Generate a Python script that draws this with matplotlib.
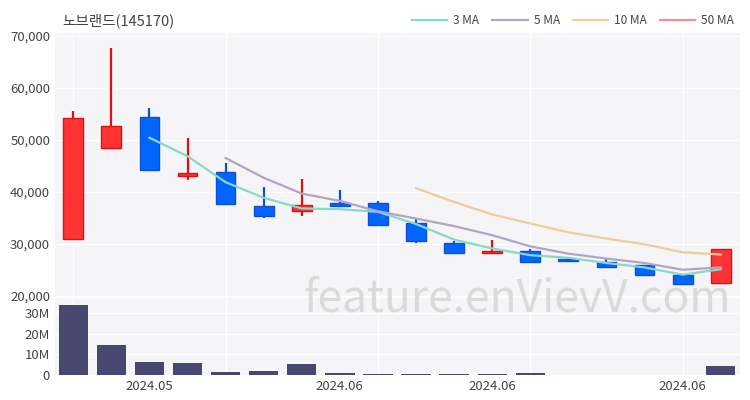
import numpy as np
import matplotlib
matplotlib.use("Agg")
import matplotlib.pyplot as plt
from matplotlib.ticker import FuncFormatter

plt.rcParams['font.family'] = ['Noto Sans CJK KR', 'DejaVu Sans']

title = "노브랜드(145170)"

# 일봉 데이터
opens = [31000, 48500, 54400, 43100, 43800, 37300, 36300, 37900, 37900,
         33950, 30250, 28350, 28700, 27200, 26550, 25900, 24000, 22500]
closes = [54300, 52800, 44250, 43700, 37700, 35300, 37550, 37300, 33700,
          30550, 28250, 28700, 26550, 26800, 25650, 24050, 22250, 29000]
highs = [55500, 67800, 56250, 50450, 45600, 41050, 42500, 40450, 38350,
         35000, 30500, 30750, 29050, 27400, 27300, 25950, 24050, 29000]
lows = [31000, 48200, 44250, 42350, 37550, 35100, 35300, 37050, 33700,
        30150, 28050, 28250, 26450, 26550, 25450, 24050, 22200, 22300]
volumes = [34.3, 14.4, 6.3, 6.0, 1.5, 2.1, 5.4, 1.1, 0.5,
           0.5, 0.3, 0.5, 0.8, 0.15, 0.15, 0.2, 0.2, 4.4]  # 백만 주

nan = np.nan
ma3 = [nan, nan, 50450, 46900, 41900, 38900, 36850, 36700, 36200,
       33850, 30850, 29150, 27850, 27350, 26350, 25500, 24100, 25150]
ma5 = [nan, nan, nan, nan, 46550, 42750, 39700, 38300, 36300,
       34900, 33450, 31700, 29550, 28150, 27200, 26350, 25050, 25500]
ma10 = [nan] * 9 + [40750, 38100, 35700, 33950, 32250, 31050, 29950, 28400, 28000]
ma50 = [nan] * 18

tick_pos = [2, 7, 11, 16]
tick_labels = ["2024.05", "2024.06", "2024.06", "2024.06"]
grid_pos = [0, 4, 8, 12, 16]

bg = "#f5f5f7"
txt = "#444444"
up_c, up_e = "#ff3333", "#e01010"
dn_c, dn_e = "#0066ff", "#1050d0"

fig = plt.figure(figsize=(7.5, 4), dpi=100)
ax = fig.add_axes([0.0733, 0.26, 0.913, 0.6575])
axv = fig.add_axes([0.0733, 0.0625, 0.913, 0.1925], sharex=ax)

x = np.arange(len(opens))
for a in (ax, axv):
    a.set_facecolor(bg)
    for s in a.spines.values():
        s.set_visible(False)
    for g in grid_pos:
        a.axvline(g, color="white", lw=1, zorder=0)
    a.tick_params(length=0, colors=txt, labelsize=9.5)

# 캔들
for i in x:
    o, c, h, l = opens[i], closes[i], highs[i], lows[i]
    up = c >= o
    fc, ec = (up_c, up_e) if up else (dn_c, dn_e)
    ax.vlines(i, l, h, color=ec, lw=1.6, zorder=2)
    body = max(abs(c - o), 250)
    ax.bar(i, body, bottom=min(o, c), width=0.52, color=fc, edgecolor=ec,
           linewidth=1, zorder=3)

ax.plot(x, ma3, color="#86d8c8", lw=1.6, label="3 MA", zorder=4)
ax.plot(x, ma5, color="#b4a4c4", lw=1.6, label="5 MA", zorder=4)
ax.plot(x, ma10, color="#f0cc98", lw=1.6, label="10 MA", zorder=4)
ax.plot(x, ma50, color="#f59090", lw=1.6, label="50 MA", zorder=4)

ax.set_ylim(20000, 70600)
ax.set_yticks(range(20000, 70001, 10000))
ax.yaxis.set_major_formatter(FuncFormatter(lambda v, p: f"{int(v):,}"))
ax.grid(axis="y", color="white", lw=1)
ax.set_axisbelow(True)
ax.set_xlim(-0.48, 17.5)
ax.tick_params(axis="x", labelbottom=False)

leg = ax.legend(loc="lower right", bbox_to_anchor=(1.0, 1.0), ncol=4,
                frameon=False, fontsize=8.5, handlelength=3, columnspacing=1.1,
                handletextpad=0.5, borderaxespad=0.1)
for t in leg.get_texts():
    t.set_color(txt)

# 거래량
axv.bar(x, volumes, width=0.77, color="#474770", zorder=2)
axv.set_ylim(0, 37.5)
axv.set_yticks([0, 10, 20, 30])
axv.set_yticklabels(["0", "10M", "20M", "30M"])
axv.grid(axis="y", color="white", lw=1)
axv.set_axisbelow(True)
axv.set_xticks(tick_pos)
axv.set_xticklabels(tick_labels)

fig.text(0.083, 0.948, title, fontsize=10.5, color=txt, ha="left", va="center")
fig.text(0.69, 0.255, "feature.enVievV.com", fontsize=32, color="#d6d6d6",
         fontweight="medium", ha="center", va="center", alpha=0.85, zorder=10)

fig.savefig("out.png", dpi=100)
